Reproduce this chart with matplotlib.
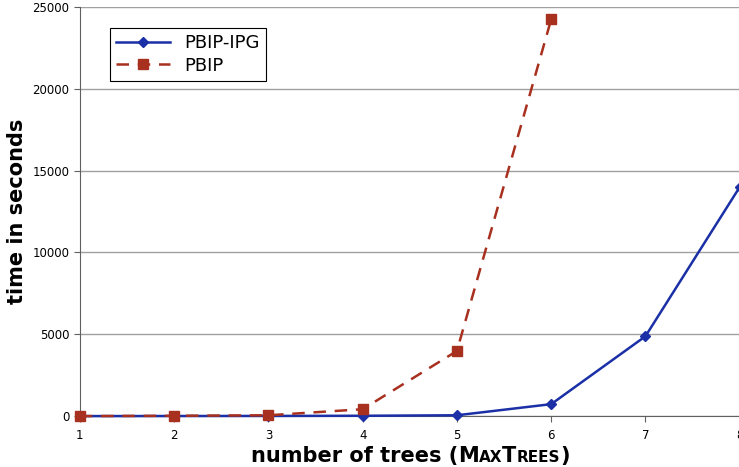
import matplotlib
matplotlib.use("Agg")
import matplotlib.pyplot as plt
from matplotlib.offsetbox import TextArea, HPacker, AnchoredOffsetbox

# data
trees = [1, 2, 3, 4, 5, 6, 7, 8]
pbip_ipg = [0, 5, 10, 20, 50, 730, 4880, 14000]
pbip_trees = [1, 2, 3, 4, 5, 6]
pbip = [0, 20, 50, 420, 3980, 24250]

blue = '#1b30a6'
red = '#a8301f'

fig = plt.figure(figsize=(7.39, 4.67), dpi=100)
ax = fig.add_axes([0.108, 0.109, 0.893, 0.876])

ax.plot(trees, pbip_ipg, color=blue, linewidth=1.8, marker='D', markersize=5.5,
        label='PBIP-IPG', clip_on=False, zorder=3)
ax.plot(pbip_trees, pbip, color=red, linewidth=1.8, linestyle=(0, (5, 3.5)),
        marker='s', markersize=7, label='PBIP', clip_on=False, zorder=4)

ax.set_xlim(1, 8)
ax.set_ylim(0, 25000)
ax.set_yticks(range(0, 25001, 5000))
ax.set_xticks(trees)
ax.yaxis.grid(True, color='#a0a0a0', linewidth=1)
ax.set_axisbelow(True)
for s in ['top', 'right']:
    ax.spines[s].set_visible(False)
ax.spines['left'].set_color('#606060')
ax.spines['bottom'].set_color('#606060')
ax.tick_params(axis='both', labelsize=8.5, length=4, color='#606060', width=0.8)
ax.tick_params(axis='x', pad=5)

ax.set_ylabel('time in seconds', fontsize=15, fontweight='bold', labelpad=4)

# x label with small caps for MaxTrees
parts = [('number of trees (', 15), ('M', 15), ('AX', 11), ('T', 15), ('REES', 11), (')', 15)]
boxes = [TextArea(t, textprops=dict(fontsize=s, fontweight='bold')) for t, s in parts]
lab = HPacker(children=boxes, align='baseline', pad=0, sep=0)
anch = AnchoredOffsetbox(loc='center', child=lab, frameon=False,
                         bbox_to_anchor=(0.555, 0.024), bbox_transform=fig.transFigure,
                         borderpad=0, pad=0)
fig.add_artist(anch)

leg = ax.legend(loc='upper left', bbox_to_anchor=(0.045, 0.949), fontsize=13,
                fancybox=False, framealpha=1, edgecolor='black', handlelength=3,
                borderpad=0.35, labelspacing=0.25, borderaxespad=0)
leg.get_frame().set_linewidth(0.8)

plt.savefig('out.png', dpi=100)
